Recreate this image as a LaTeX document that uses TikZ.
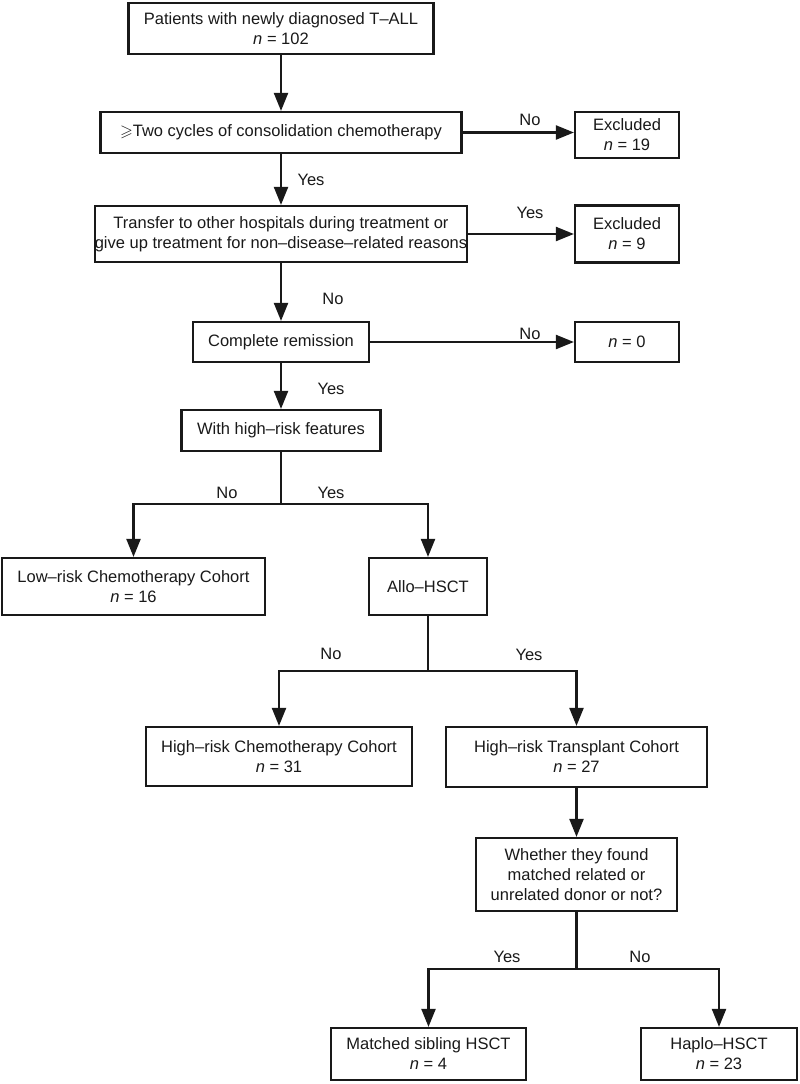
\documentclass[tikz,border=0pt]{standalone}
\usepackage{fontspec}
\usepackage{amssymb}
\setmainfont{Liberation Sans}
\usetikzlibrary{arrows.meta}
\begin{document}
\begin{tikzpicture}
  [x=1pt,y=-1pt,color=black!90,line width=2.2pt,
   box/.style={draw,align=center,inner sep=0pt,font=\fontsize{16.5}{20}\selectfont},
   lbl/.style={inner sep=0pt,font=\fontsize{16.5}{20}\selectfont},
   arr/.style={-{Triangle[length=18pt,width=14pt]}}]
  \useasboundingbox (0,0) rectangle (800,1084);

  % main column
  \node[box,minimum width=305pt,minimum height=51pt] (pat) at (281,28.5) {Patients with newly diagnosed T–ALL\\\textit{n} = 102};
  \node[box,minimum width=361pt,minimum height=41pt] (cyc) at (281,132.5) {$\geqslant$Two cycles of consolidation chemotherapy};
  \node[box,minimum width=363pt,minimum height=56pt] (trans) at (281,234) {Transfer to other hospitals during treatment or\\give up treatment for non–disease–related reasons};
  \node[box,minimum width=176pt,minimum height=40pt] (cr) at (281,342) {Complete remission};
  \node[box,minimum width=199pt,minimum height=41pt] (hr) at (281,430.5) {With high–risk features};

  % excluded column
  \node[box,minimum width=104pt,minimum height=46pt] (ex19) at (627,135) {Excluded\\\textit{n} = 19};
  \node[box,minimum width=104pt,minimum height=57pt] (ex9) at (627,234) {Excluded\\\textit{n} = 9};
  \node[box,minimum width=104pt,minimum height=40pt] (n0) at (627,342) {\textit{n} = 0};

  % cohorts
  \node[box,minimum width=263pt,minimum height=57pt] (low) at (133.5,586.5) {Low–risk Chemotherapy Cohort\\\textit{n} = 16};
  \node[box,minimum width=118pt,minimum height=57pt] (allo) at (428,586.5) {Allo–HSCT};
  \node[box,minimum width=266pt,minimum height=59pt] (hrc) at (279,756.5) {High–risk Chemotherapy Cohort\\\textit{n} = 31};
  \node[box,minimum width=261pt,minimum height=60pt] (hrt) at (576.5,757) {High–risk Transplant Cohort\\\textit{n} = 27};
  \node[box,minimum width=201pt,minimum height=73pt] (who) at (576.5,874.5) {Whether they found\\matched related or\\unrelated donor or not?};
  \node[box,minimum width=195pt,minimum height=52pt] (msib) at (428.5,1054) {Matched sibling HSCT\\\textit{n} = 4};
  \node[box,minimum width=156pt,minimum height=52pt] (haplo) at (719,1054) {Haplo–HSCT\\\textit{n} = 23};

  % branch points
  \coordinate (j1) at (281,504);
  \coordinate (j2) at (428,671);
  \coordinate (j3) at (576.5,969);

  \foreach \from/\to in {pat/cyc,cyc/trans,trans/cr,cr/hr,hrt/who}
    \draw[arr] (\from) -- (\to);
  \foreach \from/\to in {cyc/ex19,trans/ex9,cr/n0}
    \draw[arr] (\from.east) -- (\from.east -| \to.west);
  \foreach \from/\j/\l/\r in {hr/j1/low/allo,allo/j2/hrc/hrt,who/j3/msib/haplo}{
    \draw (\from) -- (\j);
    \draw[arr] (\j) -| (\l);
    \draw[arr] (\j) -| (\r);
  }

  % yes / no labels
  \node[lbl] (l1) at (530,120) {No};
  \node[lbl] (l2) at (311,180) {Yes};
  \node[lbl] (l3) at (530,213) {Yes};
  \node[lbl] (l4) at (333,299) {No};
  \node[lbl] (l5) at (530,334) {No};
  \node[lbl] (l6) at (331,389) {Yes};
  \node[lbl] (l7) at (227,493) {No};
  \node[lbl] (l8) at (331,493) {Yes};
  \node[lbl] (l9) at (331,654) {No};
  \node[lbl] (l10) at (529,655) {Yes};
  \node[lbl] (l11) at (507,957) {Yes};
  \node[lbl] (l12) at (640,957) {No};
\end{tikzpicture}
\end{document}
